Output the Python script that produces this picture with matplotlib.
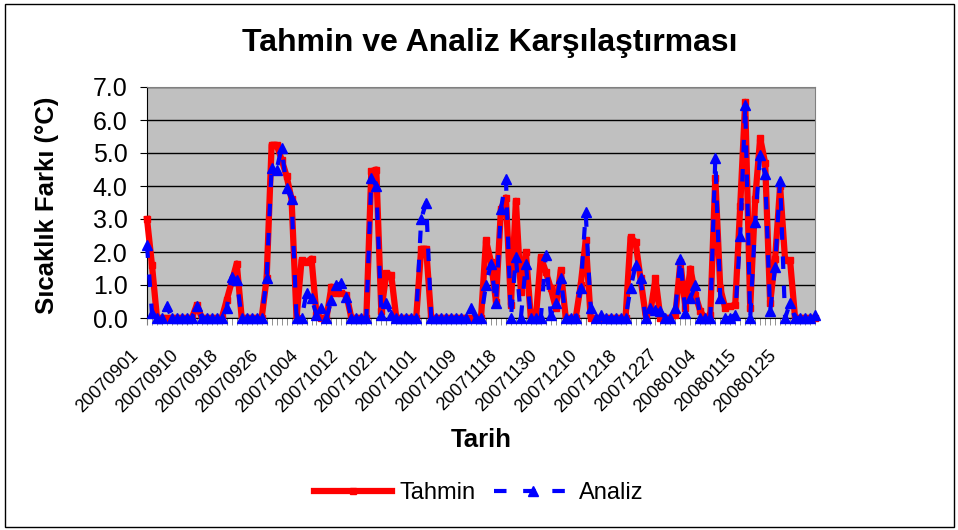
import numpy as np
import matplotlib
matplotlib.use('Agg')
import matplotlib.pyplot as plt
from matplotlib.patches import Rectangle
from matplotlib.transforms import ScaledTranslation

plt.rcParams['font.family'] = ['Liberation Sans', 'DejaVu Sans']

# tick labels (every 8th date category)
tick_labels = ['20070901', '20070910', '20070918', '20070926', '20071004',
               '20071012', '20071021', '20071101', '20071109', '20071118',
               '20071130', '20071210', '20071218', '20071227', '20080104',
               '20080115', '20080125']

# temperature difference (deg C), one value per date category
tahmin = [3.0, 1.6, 0, 0, 0, 0, 0, 0, 0, 0,
          0.4, 0, 0, 0, 0, 0, 0.55, 1.1, 1.65, 0,
          0, 0, 0, 0, 1.2, 5.25, 5.25, 4.8, 4.3, 3.6,
          0, 1.75, 1.7, 1.8, 0.1, 0, 0, 0.95, 0.75, 0.75,
          0.7, 0, 0, 0, 0, 4.45, 4.5, 0.2, 1.35, 1.3,
          0, 0, 0, 0, 0, 2.1, 2.1, 0, 0, 0,
          0, 0, 0, 0, 0, 0, 0, 0, 2.35, 1.7,
          0.5, 3.3, 3.65, 0.4, 3.55, 0.8, 2.0, 0, 0, 1.85,
          1.4, 0.9, 0.3, 1.45, 0, 0, 0, 1.0, 2.35, 0,
          0, 0, 0, 0, 0, 0, 0, 2.45, 2.3, 1.2,
          0.1, 0.2, 1.2, 0, 0, 0, 0.1, 1.7, 0.3, 1.5,
          0.7, 0.2, 0, 0.1, 4.25, 0.9, 0.3, 0.35, 0.4, 3.4,
          6.55, 0.3, 3.6, 5.45, 4.7, 0.45, 1.8, 4.0, 1.75, 1.75,
          0, 0, 0, 0, 0]

analiz = [2.2, 0.15, 0, 0, 0.35, 0, 0, 0, 0, 0,
          0.35, 0, 0, 0, 0, 0, 0.3, 1.25, 1.15, 0,
          0, 0, 0, 0, 1.2, 4.55, 4.5, 5.15, 3.95, 3.6,
          0, 0, 0.75, 0.6, 0.1, 0.3, 0, 0.55, 1.0, 1.05,
          0.65, 0, 0, 0, 0, 4.25, 4.0, 0.1, 0.45, 0.1,
          0, 0, 0, 0, 0, 3.0, 3.5, 0, 0, 0,
          0, 0, 0, 0, 0, 0.3, 0, 0, 1.0, 1.65,
          0.45, 3.3, 4.2, 0, 1.85, 0, 1.65, 0, 0, 0,
          1.9, 0.1, 0.45, 1.2, 0, 0, 0, 0.9, 3.2, 0.3,
          0, 0.1, 0, 0, 0, 0, 0, 0.9, 1.6, 1.2,
          0, 0.3, 0.25, 0.2, 0, 0, 0.3, 1.8, 0.15, 0.6,
          1.0, 0, 0, 0, 4.85, 0.6, 0, 0, 0.1, 2.5,
          6.45, 0, 2.9, 4.95, 4.35, 0.2, 1.55, 4.15, 0, 0.45,
          0, 0, 0, 0, 0.1]

x = np.arange(len(tahmin))

fig = plt.figure(figsize=(9.58, 5.30), dpi=100)
ax = fig.add_axes([147/958, 1 - 318/530, (815 - 147)/958, (318 - 87)/530])
ax.set_facecolor('#C0C0C0')

ax.plot(x, tahmin, color='#FF0000', lw=4.5, marker='s', ms=4,
        label='Tahmin', clip_on=False, zorder=3)
ax.plot(x, analiz, color='#0000FF', lw=3, ls=(0, (3, 4)), marker='^', ms=7,
        label='Analiz', clip_on=False, zorder=4)

ax.set_xlim(0, len(x) - 1)
ax.set_ylim(0, 7)
ax.set_yticks(np.arange(0, 8))
ax.set_yticklabels(['%.1f' % v for v in range(8)], fontsize=18)
ax.yaxis.grid(True, color='black', lw=1)
ax.set_axisbelow(True)

ax.set_xticks(x[::8])
ax.set_xticks(x, minor=True)
ax.set_xticklabels(tick_labels, fontsize=13, rotation=45, ha='right',
                   va='center', rotation_mode='anchor')
ax.tick_params(axis='x', which='both', direction='out', length=5,
               color='#808080', pad=20)
ax.tick_params(axis='y', direction='out', length=5, pad=9)
shift = ScaledTranslation(-8/72, 0, fig.dpi_scale_trans)
for lab in ax.get_xticklabels():
    lab.set_transform(lab.get_transform() + shift)

for s in ['top', 'right']:
    ax.spines[s].set_color('#808080')
ax.spines['left'].set_color('black')
ax.spines['bottom'].set_color('black')

fig.text(490/958, 1 - 43/530, 'Tahmin ve Analiz Karşılaştırması',
         ha='center', va='center', fontsize=23, fontweight='bold')
fig.text(47/958, 1 - 205/530, 'Sıcaklık Farkı (°C)', rotation=90,
         ha='center', va='center', fontsize=18.5, fontweight='bold')
fig.text(481/958, 1 - 440/530, 'Tarih', ha='center', va='center',
         fontsize=18.5, fontweight='bold')

fig.legend(loc='center', bbox_to_anchor=(0.5, 1 - 493/530), ncol=2,
           frameon=False, fontsize=17, handlelength=3.3, handletextpad=0.3,
           columnspacing=0.8, numpoints=1)

fig.add_artist(Rectangle((5/958, 3/530), 949/958, 523/530, fill=False,
                         ec='black', lw=1, transform=fig.transFigure))

fig.savefig('out.png', dpi=100)
